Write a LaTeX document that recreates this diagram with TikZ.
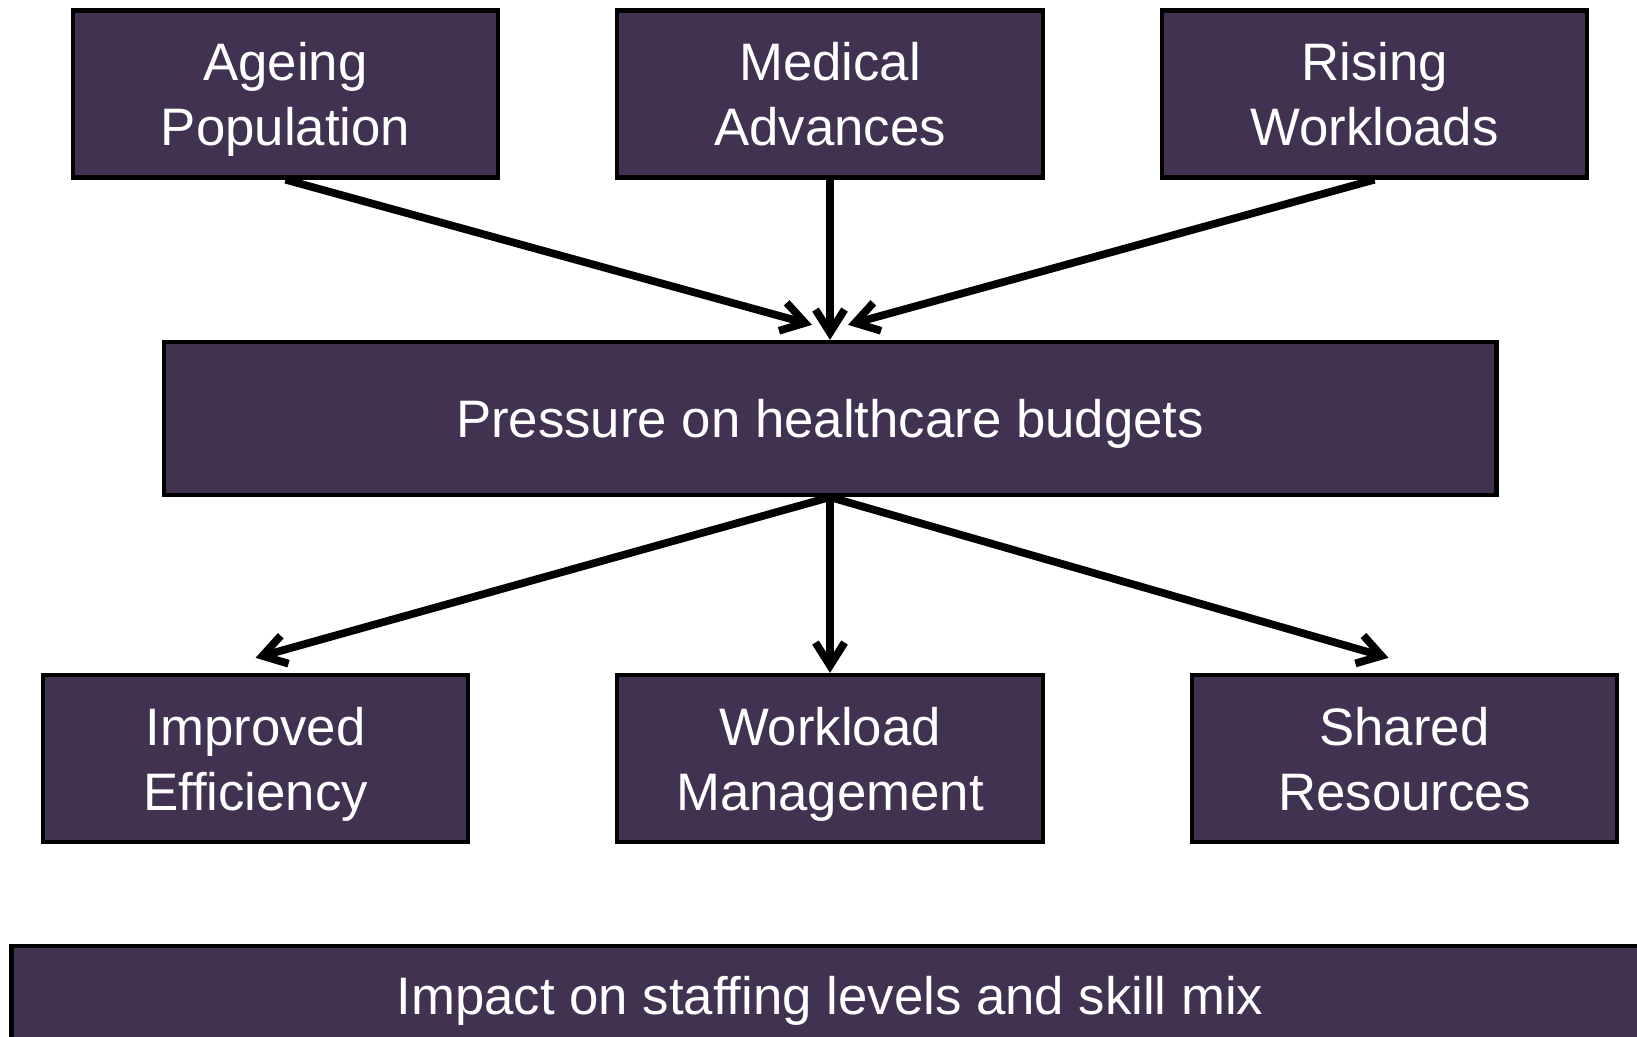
\documentclass[tikz,border=0pt]{standalone}
\usepackage{fontspec}
\setmainfont{Liberation Sans}
\usetikzlibrary{arrows.meta}
\definecolor{boxpurple}{RGB}{66,50,82}
\begin{document}
\begin{tikzpicture}[x=0.01cm,y=-0.01cm,
  box/.style={draw=black, line width=1.2pt, fill=boxpurple, text=white, align=center, inner sep=0pt, text depth=0pt, font=\fontsize{15}{18.5}\selectfont},
  arr/.style={line width=2.2pt, -{Straight Barb[length=2.3mm,width=2.9mm]}}]
\useasboundingbox (0,0) rectangle (1637,1036);
\node[box, minimum width=4.25cm, minimum height=1.67cm] (ageing) at (285.5,94) {Ageing\\Population};
\node[box, minimum width=4.25cm, minimum height=1.67cm] (medical) at (830,94) {Medical\\Advances};
\node[box, minimum width=4.25cm, minimum height=1.67cm] (rising) at (1374.5,94) {Rising\\Workloads};
\node[box, minimum width=13.32cm, minimum height=1.53cm] (pressure) at (830,418.5) {Pressure on healthcare budgets};
\draw[arr] (ageing.south) -- ([xshift=-1.8mm,yshift=1.5mm]pressure.north);
\draw[arr] (medical.south) -- (pressure.north);
\draw[arr] (rising.south) -- ([xshift=1.8mm,yshift=1.5mm]pressure.north);
\node[box, minimum width=4.25cm, minimum height=1.67cm] (improved) at (255.5,758.5) {Improved\\Efficiency};
\node[box, minimum width=4.25cm, minimum height=1.67cm] (workload) at (830,758.5) {Workload\\Management};
\node[box, minimum width=4.25cm, minimum height=1.67cm] (shared) at (1404.5,758.5) {Shared\\Resources};
\draw[arr] (pressure.south) -- ([yshift=1.5mm]improved.north);
\draw[arr] (pressure.south) -- (workload.north);
\draw[arr] (pressure.south) -- ([xshift=-1.6mm,yshift=1.5mm]shared.north);
\node[box, minimum width=16.36cm, minimum height=0.98cm] (impact) at (830,995) {Impact on staffing levels and skill mix};
\end{tikzpicture}
\end{document}
